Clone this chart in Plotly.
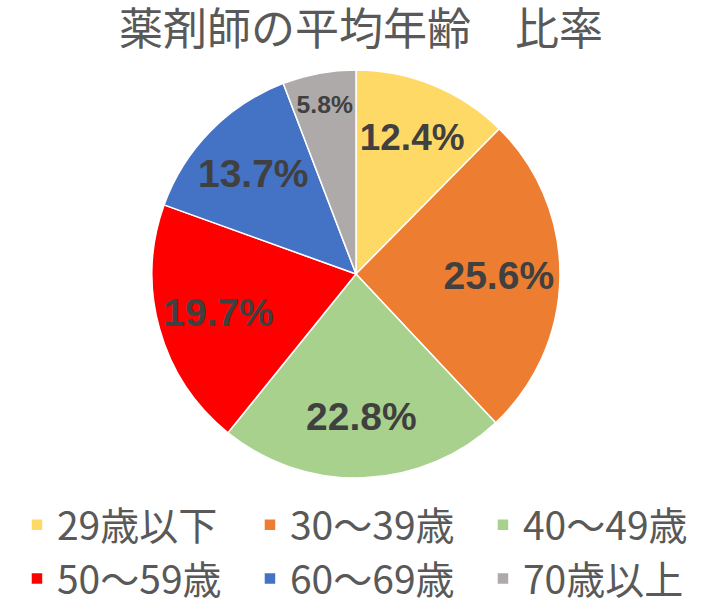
import plotly.graph_objects as go

categories = ["29歳以下", "30〜39歳", "40〜49歳", "50〜59歳", "60〜69歳", "70歳以上"]
shares = [12.4, 25.6, 22.8, 19.7, 13.7, 5.8]
colors = ["#FFD966", "#ED7D31", "#A9D18E", "#FF0000", "#4472C4", "#AEAAAA"]
labels_text = [f"{v:.1f}%" for v in shares]

W, H = 722, 606

def px_x(p):
    return p / W

def px_y(p):
    return 1 - p / H

dom = dict(x=[px_x(152), px_x(560)], y=[px_y(478), px_y(70)])

# coloured slices
fig = go.Figure(go.Pie(
    labels=categories,
    values=shares,
    textinfo="none",
    sort=False,
    direction="clockwise",
    rotation=0,
    marker=dict(colors=colors, line=dict(color="white", width=1.5)),
    domain=dom,
    hoverinfo="label+percent",
))

# percentage labels (transparent ring so the library places them further out)
fig.add_trace(go.Pie(
    labels=categories,
    values=shares,
    text=labels_text,
    textinfo="text",
    textposition="inside",
    insidetextorientation="horizontal",
    sort=False,
    direction="clockwise",
    rotation=0,
    hole=0.4,
    marker=dict(colors=["rgba(0,0,0,0)"] * len(shares), line=dict(width=0)),
    textfont=dict(family="Liberation Sans", size=39, color="#404040", weight="bold"),
    domain=dom,
    showlegend=False,
    hoverinfo="skip",
))

fig.update_layout(
    width=W, height=H,
    margin=dict(l=0, r=0, t=0, b=0, autoexpand=False),
    paper_bgcolor="white",
    title=dict(
        text="薬剤師の平均年齢　比率",
        x=0.5, xanchor="center",
        y=px_y(30), yanchor="middle",
        font=dict(family="Noto Sans CJK JP", size=44, color="#595959"),
    ),
    legend=dict(
        orientation="h",
        x=0.0235, xanchor="left",
        y=px_y(493), yanchor="top",
        entrywidth=188, entrywidthmode="pixels",
        font=dict(family="Noto Sans CJK JP", size=39, color="#595959"),
        traceorder="normal",
    ),
)

fig.write_html(
    "out.html",
    config={"displayModeBar": False},
    post_script="document.body.style.margin='0';",
)
